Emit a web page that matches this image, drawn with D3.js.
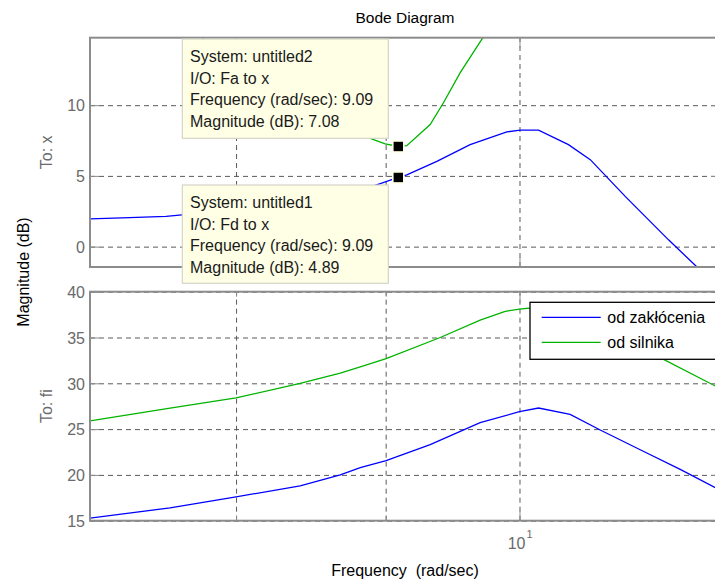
<!DOCTYPE html>
<html>
<head>
<meta charset="utf-8">
<script src="https://cdn.jsdelivr.net/npm/d3@7"></script>
<style>
  html, body { margin: 0; padding: 0; background: #ffffff; }
  svg { display: block; font-family: "Liberation Sans", Arial, Helvetica, sans-serif; }
</style>
</head>
<body>
<svg id="chart" width="715" height="581"></svg>
<script>
// Magnitude responses (dB) against frequency (rad/sec)
// Fd -> x (od zakłócenia)
const freqFdX = [7.131, 7.313, 7.571, 7.667, 8.0, 8.414, 8.753, 8.962, 9.09, 9.151, 9.370, 9.619, 9.901, 10.006, 10.151, 10.393, 10.573, 10.868, 11.245, 11.500];
const magFdX  = [1.96, 2.03, 2.14, 2.25, 2.55, 3.05, 3.75, 4.45, 4.89, 5.08, 6.03, 7.21, 8.11, 8.23, 8.23, 7.21, 6.15, 3.55, 0.48, -1.44];
// Fa -> x (od silnika)
const freqFaX = [7.790, 8.089, 8.414, 8.684, 8.905, 8.997, 9.09, 9.151, 9.321, 9.419, 9.544, 9.716];
const magFaX  = [14.77, 12.0, 10.0, 8.7, 7.6, 7.26, 7.08, 7.14, 8.63, 10.17, 12.3, 14.77];
// Fd -> fi
const freqFdFi = [7.131, 7.595, 8.0, 8.414, 8.684, 8.822, 9.003, 9.321, 9.695, 10.0, 10.151, 10.407, 10.656, 10.997, 11.349, 11.667];
const magFdFi  = [15.29, 16.4, 17.6, 18.8, 20.0, 20.8, 21.55, 23.3, 25.7, 26.9, 27.3, 26.6, 24.9, 22.75, 20.6, 18.6];
// Fa -> fi
const freqFaFi = [7.131, 7.595, 8.0, 8.414, 8.684, 8.822, 9.003, 9.395, 9.695, 9.888, 10.0, 10.151, 10.407, 10.656, 10.997, 11.171, 11.667];
const magFaFi  = [25.9, 27.3, 28.4, 30.0, 31.1, 31.8, 32.7, 35.0, 36.9, 37.85, 38.1, 38.3, 37.6, 36.0, 33.85, 32.8, 29.7];

const legendLabels = ["od zakłócenia", "od silnika"];
const seriesColors = ["#0000ff", "#00b400"];

const freqDomain = [7.131, 11.71];
const topDomain = [-1.44, 14.77];
const bottomDomain = [15, 40];
const topTicks = [0, 5, 10];
const bottomTicks = [15, 20, 25, 30, 35, 40];
const majorFreqTicks = [10];
const minorFreqTicks = [8, 9];

// Data tips
const tips = [
  { system: "untitled2", io: "Fa to x", freq: 9.09, mag: 7.08 },
  { system: "untitled1", io: "Fd to x", freq: 9.09, mag: 4.89 }
];

const svg = d3.select("#chart");
const L = 90, R = 720;
const topY = [37.7, 267], botY = [291.7, 520.7];
const axisGray = "#8c8c8c", labelGray = "#6a6a6a", gridGray = "#5a5a5a";

const x = d3.scaleLog().domain(freqDomain).range([L, R]);
const yTop = d3.scaleLinear().domain(topDomain).range([topY[1], topY[0]]);
const yBot = d3.scaleLinear().domain(bottomDomain).range([botY[1], botY[0]]);

const defs = svg.append("defs");

function panel(id, y, yTicks, y0, y1, series, rowLabel) {
  defs.append("clipPath").attr("id", id)
    .append("rect").attr("x", L).attr("y", y0).attr("width", R - L).attr("height", y1 - y0);

  const g = svg.append("g");
  // grid
  g.append("g").attr("transform", `translate(${L},0)`)
    .call(d3.axisLeft(y).tickValues(yTicks).tickSize(-(R - L)).tickFormat(""))
    .call(s => s.select(".domain").remove())
    .selectAll("line").attr("stroke", gridGray).attr("stroke-dasharray", "5,4");
  g.append("g").attr("transform", `translate(0,${y1})`)
    .call(d3.axisBottom(x).tickValues(majorFreqTicks.concat(minorFreqTicks)).tickSize(-(y1 - y0)).tickFormat(""))
    .call(s => s.select(".domain").remove())
    .selectAll("line").attr("stroke", gridGray).attr("stroke-dasharray", "5,4");

  // curves
  const line = d3.line().x(d => x(d[0])).y(d => y(d[1]));
  const cg = g.append("g").attr("clip-path", `url(#${id})`);
  series.forEach((s, i) => {
    cg.append("path")
      .datum(d3.zip(s[0], s[1]))
      .attr("fill", "none")
      .attr("stroke", seriesColors[i])
      .attr("stroke-width", 1.3)
      .attr("d", line);
  });

  // tick marks (inward) on all sides
  const tk = g.append("g").attr("stroke", axisGray).attr("stroke-width", 1);
  const left = g.append("g").attr("transform", `translate(${L},0)`)
    .call(d3.axisLeft(y).tickValues(yTicks).tickSize(-9).tickPadding(5).tickFormat(d3.format("d")));
  left.select(".domain").remove();
  left.selectAll("line").attr("stroke", axisGray);
  left.selectAll("text").attr("fill", labelGray).style("font-size", "16px")
    .attr("font-family", null).attr("dy", "0.36em");
  const right = g.append("g").attr("transform", `translate(${R},0)`)
    .call(d3.axisRight(y).tickValues(yTicks).tickSize(-9).tickFormat(""));
  right.select(".domain").remove();
  right.selectAll("line").attr("stroke", axisGray);
  [[y1, d3.axisBottom], [y0, d3.axisTop]].forEach(([yy, ax]) => {
    const a = g.append("g").attr("transform", `translate(0,${yy})`)
      .call(ax(x).tickValues(majorFreqTicks).tickSize(-10).tickFormat(""));
    a.select(".domain").remove();
    a.selectAll("line").attr("stroke", axisGray);
    const m = g.append("g").attr("transform", `translate(0,${yy})`)
      .call(ax(x).tickValues(minorFreqTicks).tickSize(-5).tickFormat(""));
    m.select(".domain").remove();
    m.selectAll("line").attr("stroke", axisGray);
  });

  // box
  g.append("rect").attr("x", L).attr("y", y0).attr("width", R - L).attr("height", y1 - y0)
    .attr("fill", "none").attr("stroke", axisGray).attr("stroke-width", 2);

  // row label
  g.append("text")
    .attr("transform", `translate(52,${(y0 + y1) / 2}) rotate(-90)`)
    .attr("text-anchor", "middle").attr("fill", labelGray).style("font-size", "16px")
    .text(rowLabel);
  return g;
}

panel("clipTop", yTop, topTicks, topY[0], topY[1], [[freqFdX, magFdX], [freqFaX, magFaX]], "To: x");
panel("clipBot", yBot, bottomTicks, botY[0], botY[1], [[freqFdFi, magFdFi], [freqFaFi, magFaFi]], "To: fi");

// decade label 10^1
majorFreqTicks.forEach(f => {
  const t = svg.append("text").attr("x", x(f) + 6).attr("y", 549)
    .attr("text-anchor", "end").attr("fill", labelGray).style("font-size", "16px");
  t.text(String(Math.round(f / Math.pow(10, Math.floor(Math.log10(f)))) === 1 ? "10" : f));
  svg.append("text").attr("x", x(f) + 7).attr("y", 538)
    .attr("fill", labelGray).style("font-size", "11px")
    .text(String(Math.floor(Math.log10(f))));
});

// titles
svg.append("text").attr("x", (L + R) / 2).attr("y", 23).attr("text-anchor", "middle")
  .attr("fill", "#000").style("font-size", "15.5px").text("Bode Diagram");
svg.append("text").attr("x", (L + R) / 2).attr("y", 576).attr("text-anchor", "middle")
  .attr("fill", "#000").style("font-size", "16px").attr("xml:space", "preserve")
  .text("Frequency\u00a0\u00a0(rad/sec)");
svg.append("text").attr("transform", "translate(29,272) rotate(-90)").attr("text-anchor", "middle")
  .attr("fill", "#000").style("font-size", "16px").text("Magnitude (dB)");

// legend
const lg = svg.append("g");
lg.append("rect").attr("x", 530).attr("y", 302.3).attr("width", 200).attr("height", 57)
  .attr("fill", "#fff").attr("stroke", "#000").attr("stroke-width", 1.3);
legendLabels.forEach((lab, i) => {
  const yy = 317.3 + i * 25;
  lg.append("line").attr("x1", 541.7).attr("x2", 600.7).attr("y1", yy).attr("y2", yy)
    .attr("stroke", seriesColors[i]).attr("stroke-width", 1.3);
  lg.append("text").attr("x", 607.3).attr("y", yy + 6).attr("fill", "#000")
    .style("font-size", "16px").text(lab);
});

// data tips
const tipBoxes = [{ x: 182.3, y: 39, w: 206, h: 99.3 }, { x: 182.3, y: 185, w: 206, h: 98.3 }];
tips.forEach((t, i) => {
  const b = tipBoxes[i];
  const g = svg.append("g");
  g.append("rect").attr("x", b.x).attr("y", b.y).attr("width", b.w).attr("height", b.h)
    .attr("fill", "#ffffe6").attr("stroke", "#d4d4c8").attr("stroke-width", 1.2);
  const lines = [
    `System: ${t.system}`,
    `I/O: ${t.io}`,
    `Frequency (rad/sec): ${t.freq.toFixed(2)}`,
    `Magnitude (dB): ${t.mag.toFixed(2)}`
  ];
  lines.forEach((s, k) => {
    g.append("text").attr("x", b.x + 7.7).attr("y", b.y + 23 + k * 21.6)
      .attr("fill", "#1a1a1a").style("font-size", "16px").text(s);
  });
});
// data tip markers
tips.forEach(t => {
  svg.append("rect")
    .attr("x", x(t.freq) - 5.5).attr("y", yTop(t.mag) - 5.5)
    .attr("width", 11).attr("height", 11)
    .attr("fill", "#000").attr("stroke", "#ffffe6").attr("stroke-width", 1.6);
});
</script>
</body>
</html>
